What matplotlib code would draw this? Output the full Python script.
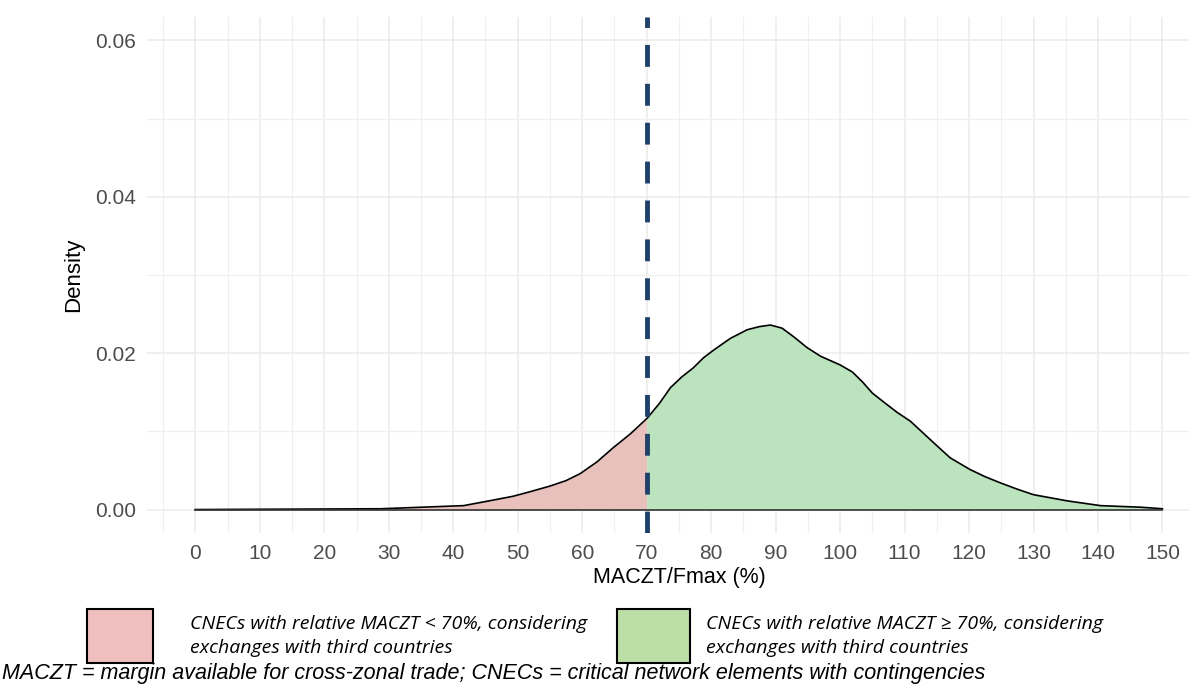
import numpy as np
import matplotlib.pyplot as plt
from matplotlib.patches import Rectangle

# density curve
x_pts = [0, 28.7, 36.8, 41.6, 45.5, 49.3, 52.0, 55.0, 57.5, 59.7, 62.3, 64.8, 67.5, 70.1,
         72.0, 73.7, 75.5, 77.2, 78.8, 80.4, 83.0, 85.6, 87.5, 89.2, 91.0, 92.8, 94.9, 97.0,
         100.0, 101.9, 103.5, 105.0, 107.0, 108.9, 110.9, 113.0, 115.1, 117.1, 120.2, 122.5,
         124.9, 127.5, 130.0, 135.3, 140.4, 146.6, 150.0]
d_pts = [0.0, 0.0001, 0.00035, 0.0005, 0.0011, 0.0017, 0.0023, 0.0030, 0.0037, 0.0046,
         0.0061, 0.0079, 0.0097, 0.0117, 0.0136, 0.0156, 0.0170, 0.0181, 0.0194, 0.0204,
         0.0219, 0.0230, 0.0234, 0.0236, 0.0232, 0.0221, 0.0207, 0.0196, 0.0185, 0.0176,
         0.0163, 0.0149, 0.0136, 0.0124, 0.0113, 0.0097, 0.0081, 0.0066, 0.0051, 0.0042,
         0.0034, 0.0026, 0.0019, 0.0011, 0.0005, 0.0003, 0.0001]
threshold = 70
x_ticks = list(range(0, 151, 10))
y_ticks = [0.00, 0.02, 0.04, 0.06]

legend_labels = ["CNECs with relative MACZT < 70%, considering\nexchanges with third countries",
                 "CNECs with relative MACZT \u2265 70%, considering\nexchanges with third countries"]
footnote = "MACZT = margin available for cross-zonal trade; CNECs = critical network elements with contingencies"

red_fill = "#e8c1bc"
green_fill = "#bbe3bd"

plt.rcParams['font.family'] = ['Liberation Sans', 'DejaVu Sans']

fig = plt.figure(figsize=(11.89, 6.84), dpi=100)
ax = fig.add_axes([147/1189, 151/684, 1063.8/1189, 516/684])

xs = np.array(x_pts)
ds = np.array(d_pts)
xf = np.linspace(0, 150, 1501)
yf = np.interp(xf, xs, ds)
ax.fill_between(xf, 0, yf, where=xf <= threshold, color=red_fill, lw=0, zorder=2)
ax.fill_between(xf, 0, yf, where=xf >= threshold, color=green_fill, lw=0, zorder=2)
ax.plot(xs, ds, color="black", lw=1.2, zorder=3)
ax.plot([0, 150], [0, 0], color="#333333", lw=1.2, zorder=3)
ax.axvline(threshold, color="#1f4068", lw=3.5, dashes=(4.5, 3.5), zorder=4)

ax.set_xlim(-7.5, 157.5)
ax.set_ylim(-0.003, 0.063)
ax.set_xticks(x_ticks)
ax.set_yticks(y_ticks)
ax.set_xticks(np.arange(-5, 160, 10), minor=True)
ax.set_yticks([0.01, 0.03, 0.05], minor=True)
ax.set_yticklabels([f"{v:.2f}" for v in y_ticks])
ax.grid(which="major", color="#ebebeb", lw=1.1, zorder=0)
ax.grid(which="minor", color="#f0f0f0", lw=0.9, zorder=0)
ax.set_axisbelow(True)
for s in ax.spines.values():
    s.set_visible(False)
ax.tick_params(which="both", length=0, labelsize=15, labelcolor="#4d4d4d", pad=8)
ax.set_xlabel("MACZT/Fmax (%)", fontsize=15.5, labelpad=3)
ax.set_ylabel("Density", fontsize=16, labelpad=8)

# legend below the plot
fig.patches.append(Rectangle((87/1189, 1 - 663/684), 66/1189, 54/684, transform=fig.transFigure,
                             facecolor="#f2bfc1", edgecolor="black", lw=1.5))
fig.patches.append(Rectangle((617/1189, 1 - 663/684), 73/1189, 54/684, transform=fig.transFigure,
                             facecolor="#bcdfa8", edgecolor="black", lw=1.5))
fig.text(190/1189, 1 - 636/684, legend_labels[0], fontsize=14, style="italic",
         family=["Open Sans", "DejaVu Sans"], va="center", ha="left", linespacing=1.45)
fig.text(706/1189, 1 - 636/684, legend_labels[1], fontsize=14, style="italic",
         family=["Open Sans", "DejaVu Sans"], va="center", ha="left", linespacing=1.45)
fig.text(0.002, 1 - 674/684, footnote, fontsize=15.5, style="italic", va="center", ha="left")

fig.savefig("out.png", dpi=100)
